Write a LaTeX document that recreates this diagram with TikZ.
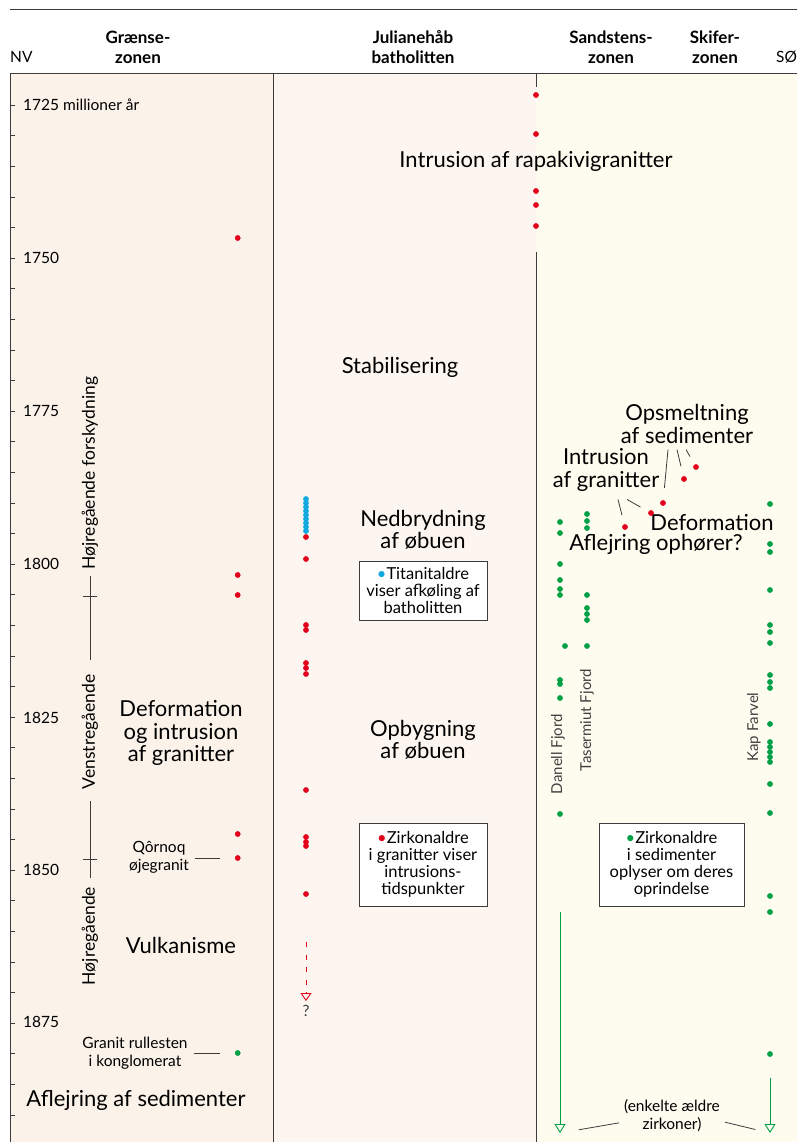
\documentclass[tikz,border=0pt]{standalone}
\usepackage{fontspec}
\setmainfont{Lato}
\usetikzlibrary{arrows.meta,positioning}
\definecolor{dotred}{HTML}{E2001A}
\definecolor{dotgreen}{HTML}{00A047}
\definecolor{dotblue}{HTML}{12A8E0}
\definecolor{bgleft}{HTML}{FBF3E9}
\definecolor{bgmid}{HTML}{FDF6F0}
\definecolor{bgright}{HTML}{FEFCEF}
\definecolor{frame}{HTML}{3C3C3C}

\begin{document}
\begin{tikzpicture}[x=1pt,y=-1pt,
  big/.style={font=\fontsize{22}{22.5}\selectfont,align=center,inner sep=0},
  small/.style={font=\fontsize{15.5}{18}\selectfont,align=center,inner sep=0},
  head/.style={font=\fontsize{17}{20}\selectfont\bfseries,align=center,inner sep=0},
  sideways/.style={font=\fontsize{17.5}{20}\selectfont,rotate=90,inner sep=0},
  fjord/.style={font=\fontsize{15}{18}\selectfont,rotate=90,inner sep=0,text=black!75},
  infobox/.style={draw=frame,fill=white,font=\fontsize{16.5}{17}\selectfont,align=center,inner sep=0},
  rdot/.style={circle,fill=dotred,inner sep=0,minimum size=5.8pt},
  gdot/.style={circle,fill=dotgreen,inner sep=0,minimum size=5.8pt},
  leader/.style={frame,line width=.8pt}]
\useasboundingbox (0,0) rectangle (797,1142);
% columns
\fill[bgleft] (10,74) rectangle (273,1142);
\fill[bgmid] (273,74) rectangle (536,1142);
\fill[bgright] (536,74) rectangle (797,1142);
\draw[frame,line width=1pt] (10,10) -- (797,10);
\draw[frame,line width=1pt] (10,74) -- (797,74);
\draw[frame,line width=1pt] (10,74) -- (10,1142);
\draw[frame,line width=1pt] (273,74) -- (273,1142);
\draw[frame,line width=1pt] (536,74) -- (536,87) (536,252) -- (536,1142);
\foreach \k in {1,...,34} \draw[frame] (10,{74.4+30.6*\k}) -- (15,{74.4+30.6*\k});

% headings
\node[small,anchor=west] (nv) at (10,57) {NV};
\node[head] (hgraense) at (138,47) {Grænse-\\zonen};
\node[head] (hjulia) at (413,47) {Julianehåb\\batholitten};
\node[head] (hsand) at (611,47) {Sandstens-\\zonen};
\node[head] (hskifer) at (715,47) {Skifer-\\zonen};
\node[small,anchor=west] (so) at (776,57) {SØ};

% ages
\node[small,anchor=west] (a1725) at (23,105) {1725 millioner år};
\node[small,anchor=west] (a1750) at (23,258) {1750};
\node[small,anchor=west] (a1775) at (23,411) {1775};
\node[small,anchor=west] (a1800) at (23,564) {1800};
\node[small,anchor=west] (a1825) at (23,718) {1825};
\node[small,anchor=west] (a1850) at (23,870) {1850};
\node[small,anchor=west] (a1875) at (23,1022) {1875};

% shear sense
\node[sideways] (hforsk) at (90,473) {Højregående forskydning};
\node[sideways] (venstre) at (90,732) {Venstregående};
\node[sideways] (hoejre) at (90,936) {Højregående};
\draw[frame,shorten <=6pt,shorten >=15pt] (hforsk.west) -- (venstre.east);
\draw[frame,shorten <=12pt,shorten >=9pt] (venstre.west) -- (hoejre.east);
\draw[frame] (83,596) -- (97,596) (83,859) -- (97,859);

% Graensezonen
\node[big] (defint) at (181,733) {Deformation\\og intrusion\\af granitter};
\node[small] (qornoq) at (159,857) {Qôrnoq\\øjegranit};
\node[big] (vulk) at (181,945) {Vulkanisme};
\node[small] (rulle) at (135,1053) {Granit rullesten\\i konglomerat};
\node[big] (aflej) at (136,1100) {Aflejring af sedimenter};
\foreach \y in {238,575,595,834} \fill[dotred] (237.7,\y) circle (2.9pt);
\node[rdot] (dqornoq) at (237.7,858) {};
\node[gdot] (drulle) at (237.7,1053) {};
\draw[leader,shorten <=6pt,shorten >=15pt] (qornoq.east |- dqornoq) -- (dqornoq);
\draw[leader,shorten <=6pt,shorten >=15pt] (rulle.east |- drulle) -- (drulle);

% Julianehaab batholitten
\node[big] (rapakivi) at (536,161) {Intrusion af rapakivigranitter};
\foreach \y in {95,134,191,205,226} \fill[dotred] (536,\y) circle (2.9pt);
\node[big] (stab) at (400,367) {Stabilisering};
\node[big] (nedbr) at (423,530) {Nedbrydning\\af øbuen};
\node[big] (opbyg) at (423,740) {Opbygning\\af øbuen};
\node[infobox,minimum width=128pt,minimum height=59pt] (titanit) at (423,590.5)
  {{\color{dotblue}•}Titanitaldre\\viser afkøling af\\batholitten};
\node[infobox,minimum width=128pt,minimum height=83pt] (zirkgr) at (423,864.5)
  {{\color{dotred}•}Zirkonaldre\\i granitter viser\\intrusions-\\tidspunkter};
\foreach \y in {499,503,...,531} \fill[dotblue] (306,\y) circle (2.9pt);
\foreach \y in {537,559,625,630,663,668,674,790,837,842,846,894} \fill[dotred] (306,\y) circle (2.9pt);
\coordinate (dashtop) at (306,942);
\coordinate (dashend) at (306,1001);
\node[small,text=frame,below=4pt of dashend] (qmark) {?};
\draw[dotred,line width=.9pt,dash pattern=on 5pt off 7.5pt,-{Triangle[open,width=11pt,length=8pt]}] (dashtop) -- (dashend);

% Sandstens- og skiferzonen
\node[big] (opsm) at (687,424) {Opsmeltning\\af sedimenter};
\node[big] (intgr) at (606,470) {Intrusion\\af granitter};
\node[big] (deform) at (712,523) {Deformation};
\node[big] (ophor) at (656,544) {Aflejring ophører?};
\node[rdot] (r1) at (696,467) {};
\node[rdot] (r2) at (684,479) {};
\node[rdot] (r3) at (663,503) {};
\node[rdot] (r4) at (651,513) {};
\node[rdot] (r5) at (625,527) {};
\draw[leader,shorten >=12pt] (opsm.south) ++(-19,6) -- (r3);
\draw[leader,shorten >=10pt] (opsm.south) ++(-10,6) -- (r2);
\draw[leader,shorten >=9pt] (opsm.south) ++(-1,6) -- (r1);
\draw[leader,shorten >=9pt] (intgr.south) ++(12,8) -- (r5);
\draw[leader,shorten >=9pt] (intgr.south) ++(21,8) -- (r4);

\foreach \y in {522,533,564,580,589,595,680,684,698,814} \fill[dotgreen] (560,\y) circle (2.9pt);
\fill[dotgreen] (565,646) circle (2.9pt);
\foreach \y in {514,521,528,595,608,614,620,646} \fill[dotgreen] (587,\y) circle (2.9pt);
\foreach \y in {504,544,552,590,625,632,643,675,682,688,724,742,747,752,757,762,784,813,896,912,1054}
  \fill[dotgreen] (770,\y) circle (2.9pt);
\node[fjord] (danell) at (558,754) {Danell Fjord};
\node[fjord] (taser) at (587,720) {Tasermiut Fjord};
\node[fjord] (kapf) at (754,727) {Kap Farvel};
\node[infobox,minimum width=145pt,minimum height=83pt] (zirksed) at (671.5,864.5)
  {{\color{dotgreen}•}Zirkonaldre\\i sedimenter\\oplyser om deres\\oprindelse};

\coordinate (gtop1) at (560,912);
\coordinate (gtop2) at (770,1078);
\coordinate (gend1) at (560,1133);
\coordinate (gend2) at (770,1133);
\draw[dotgreen,line width=.9pt,-{Triangle[open,width=11pt,length=9pt]}] (gtop1) -- (gend1);
\draw[dotgreen,line width=.9pt,-{Triangle[open,width=11pt,length=9pt]}] (gtop2) -- (gend2);
\node[small] (aeldre) at (672,1116) {(enkelte ældre\\zirkoner)};
\draw[leader,shorten <=5pt,shorten >=19pt] (aeldre.west |- 0,1122) -- (gend1);
\draw[leader,shorten <=5pt,shorten >=15pt] (aeldre.east |- 0,1121) -- (gend2);
\end{tikzpicture}
\end{document}
